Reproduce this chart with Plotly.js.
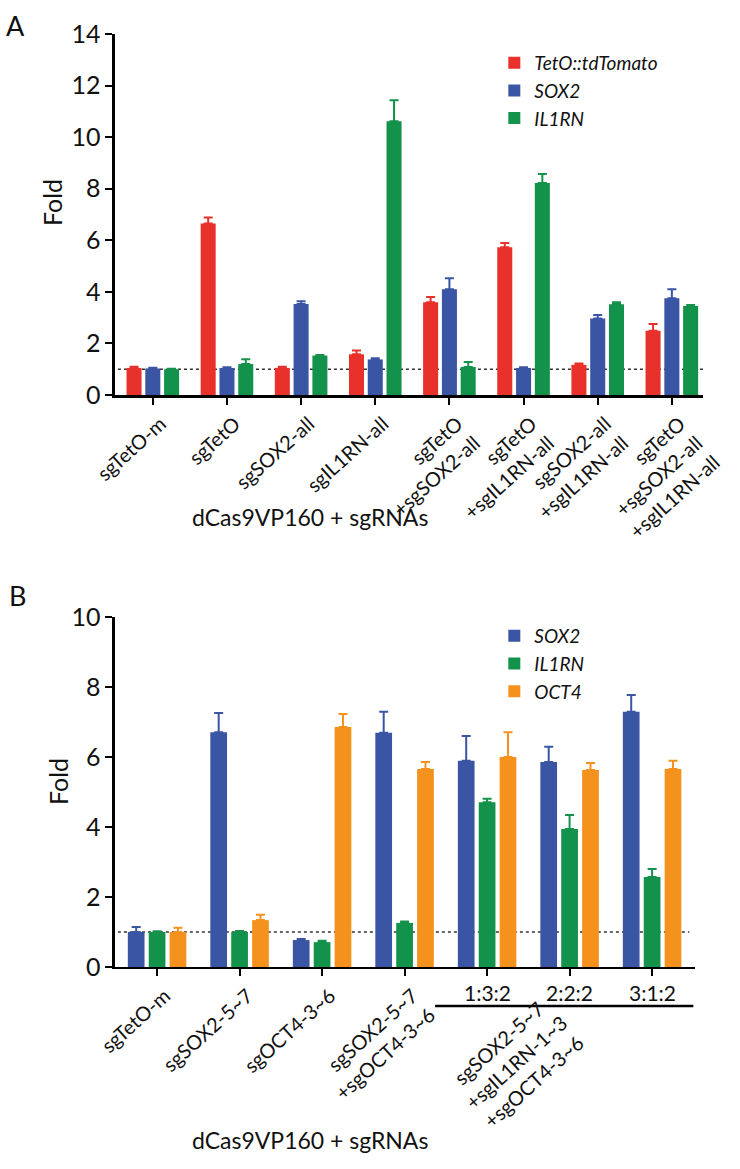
<!DOCTYPE html>
<html>
<head>
<meta charset="utf-8">
<script src="https://cdn.plot.ly/plotly-3.0.1.min.js"></script>
<style>
  body { margin: 0; background: #fff; }
  #chart { width: 740px; height: 1169px; }
</style>
</head>
<body>
<div id="chart"></div>
<script>
// panel A
var catsA = ['sgTetO-m', 'sgTetO', 'sgSOX2-all', 'sgIL1RN-all',
  'sgTetO<br>+sgSOX2-all', 'sgTetO<br>+sgIL1RN-all',
  'sgSOX2-all<br>+sgIL1RN-all', 'sgTetO<br>+sgSOX2-all<br>+sgIL1RN-all'];
var tomatoA = [1.05, 6.65, 1.05, 1.58, 3.6, 5.73, 1.17, 2.49];
var tomatoErrA = [0.05, 0.23, 0.05, 0.15, 0.2, 0.17, 0.05, 0.26];
var sox2A = [1.03, 1.05, 3.53, 1.38, 4.1, 1.05, 2.97, 3.75];
var sox2ErrA = [0.03, 0.03, 0.11, 0.05, 0.43, 0.03, 0.13, 0.35];
var il1rnA = [1.0, 1.2, 1.53, 10.62, 1.09, 8.22, 3.52, 3.45];
var il1rnErrA = [0.02, 0.19, 0.02, 0.81, 0.19, 0.35, 0.08, 0.04];

// panel B
var catsB = ['sgTetO-m', 'sgSOX2-5~7', 'sgOCT4-3~6', 'sgSOX2-5~7<br>+sgOCT4-3~6',
  '1:3:2', '2:2:2', '3:1:2'];
var ratioLabels = ['1:3:2', '2:2:2', '3:1:2'];
var sox2B = [1.0, 6.71, 0.77, 6.69, 5.89, 5.86, 7.29];
var sox2ErrB = [0.14, 0.55, 0.03, 0.6, 0.71, 0.43, 0.48];
var il1rnB = [1.0, 1.0, 0.71, 1.26, 4.71, 3.94, 2.57];
var il1rnErrB = [0.02, 0.03, 0.04, 0.04, 0.1, 0.4, 0.23];
var oct4B = [1.0, 1.34, 6.86, 5.66, 6.0, 5.63, 5.66];
var oct4ErrB = [0.12, 0.15, 0.37, 0.2, 0.71, 0.2, 0.23];

var RED = '#e8312a', BLUE = '#3b55a5', GREEN = '#12924a', ORANGE = '#f5921e';
var FONT = 'Lato, "Liberation Sans", sans-serif';
var INK = '#111';

function zeros(n) { var z = []; for (var i = 0; i < n; i++) z.push(0); return z; }

function barTrace(name, x, y, err, color, xa, ya, leg) {
  return {
    type: 'bar', name: name, x: x, y: y,
    xaxis: xa, yaxis: ya, legend: leg,
    marker: { color: color, line: { width: 0 } },
    error_y: { type: 'data', symmetric: false, array: err, arrayminus: zeros(y.length),
      color: color, thickness: 2, width: 4.5 },
    hoverinfo: 'x+y+name'
  };
}

var data = [
  barTrace('<i>TetO::tdTomato</i>', catsA, tomatoA, tomatoErrA, RED, 'x', 'y', 'legend'),
  barTrace('<i>SOX2</i>', catsA, sox2A, sox2ErrA, BLUE, 'x', 'y', 'legend'),
  barTrace('<i>IL1RN</i>', catsA, il1rnA, il1rnErrA, GREEN, 'x', 'y', 'legend'),
  barTrace('<i>SOX2</i>', catsB, sox2B, sox2ErrB, BLUE, 'x2', 'y2', 'legend2'),
  barTrace('<i>IL1RN</i>', catsB, il1rnB, il1rnErrB, GREEN, 'x2', 'y2', 'legend2'),
  barTrace('<i>OCT4</i>', catsB, oct4B, oct4ErrB, ORANGE, 'x2', 'y2', 'legend2')
];

// the ratio groups get their labels from annotations below the axis
var tickTextB = catsB.map(function (c) { return ratioLabels.indexOf(c) >= 0 ? '' : c; });

var axisCommon = {
  showline: true, linecolor: '#000', linewidth: 2.5,
  ticks: 'outside', ticklen: 7, tickwidth: 2, tickcolor: '#000',
  showgrid: false, zeroline: false, fixedrange: true
};

function merge(a, b) { var o = {}; for (var k in a) o[k] = a[k]; for (var k2 in b) o[k2] = b[k2]; return o; }

function note(text, x, y, size, extra) {
  var a = { text: text, xref: 'paper', yref: 'paper', x: x, y: y, showarrow: false,
    xanchor: 'center', yanchor: 'middle', font: { size: size, family: FONT, color: INK } };
  return merge(a, extra || {});
}

var layout = {
  width: 740, height: 1169,
  margin: { l: 0, r: 0, t: 0, b: 0 },
  paper_bgcolor: '#fff', plot_bgcolor: '#fff',
  font: { family: FONT, color: INK },
  barmode: 'group', bargap: 0.24, bargroupgap: 0.2,
  showlegend: true,
  xaxis: merge(axisCommon, {
    domain: [0.1554, 0.950], anchor: 'y', type: 'category',
    range: [-0.51, 7.42], tickangle: -42, ticklabelshift: 8,
    tickfont: { size: 20, family: FONT, color: INK }
  }),
  yaxis: merge(axisCommon, {
    domain: [0.6621, 0.9709], anchor: 'x', range: [0, 14], dtick: 2,
    tickfont: { size: 25, family: FONT, color: INK }
  }),
  xaxis2: merge(axisCommon, {
    domain: [0.1554, 0.9392], anchor: 'y2', type: 'category',
    range: [-0.51, 6.52], tickangle: -42, ticklabelshift: 8,
    tickmode: 'array', tickvals: catsB, ticktext: tickTextB,
    tickfont: { size: 20, family: FONT, color: INK }
  }),
  yaxis2: merge(axisCommon, {
    domain: [0.1728, 0.4722], anchor: 'x2', range: [0, 10], dtick: 2,
    tickfont: { size: 25, family: FONT, color: INK }
  }),
  legend: {
    x: 0.668, y: 0.9625, xanchor: 'left', yanchor: 'top',
    bgcolor: 'rgba(0,0,0,0)', font: { size: 19, family: FONT, color: INK },
    tracegroupgap: 0
  },
  legend2: {
    x: 0.668, y: 0.4723, xanchor: 'left', yanchor: 'top',
    bgcolor: 'rgba(0,0,0,0)', font: { size: 19, family: FONT, color: INK },
    tracegroupgap: 0
  },
  shapes: [
    { type: 'line', xref: 'x domain', yref: 'y', x0: 0.005, x1: 1, y0: 1, y1: 1,
      layer: 'below', line: { color: '#333', width: 1.5, dash: 'dot' } },
    { type: 'line', xref: 'x2 domain', yref: 'y2', x0: 0.005, x1: 0.99, y0: 1, y1: 1,
      layer: 'below', line: { color: '#333', width: 1.5, dash: 'dot' } },
    { type: 'line', xref: 'x2', yref: 'paper', x0: 3.37, x1: 6.5, y0: 0.1394, y1: 0.1394,
      line: { color: '#000', width: 2.5 } }
  ],
  annotations: [
    note('A', 0.0203, 0.9786, 27),
    note('B', 0.023, 0.4902, 27),
    note('Fold', 0.0703, 0.8263, 25, { textangle: -90 }),
    note('Fold', 0.0784, 0.331, 25, { textangle: -90 }),
    note('dCas9VP160 + sgRNAs', 0.419, 0.5577, 23),
    note('dCas9VP160 + sgRNAs', 0.419, 0.0248, 23),
    note('sgSOX2-5~7<br>+sgIL1RN-1~3<br>+sgOCT4-3~6', 4.35, 0.0915, 20,
      { xref: 'x2', textangle: -42 })
  ].concat(ratioLabels.map(function (r) {
    return note(r, r, 0.1514, 21, { xref: 'x2' });
  }))
};

Plotly.newPlot('chart', data, layout, { staticPlot: true });
</script>
</body>
</html>
